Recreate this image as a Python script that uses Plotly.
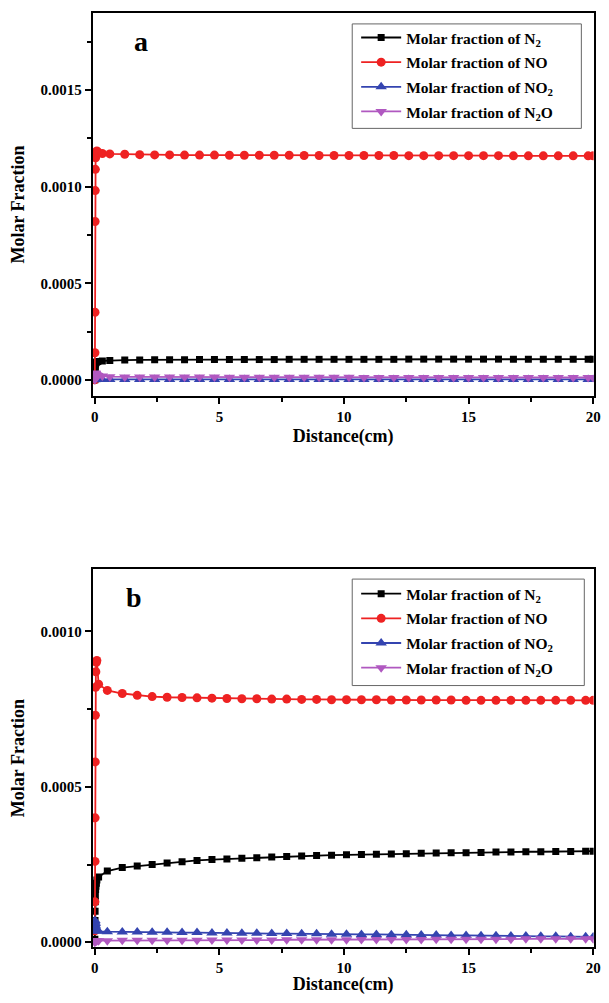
import plotly.graph_objects as go

# ---------------- data: panel a ----------------
xa = [0, 0.003, 0.006, 0.01, 0.015, 0.02, 0.03, 0.05, 0.08, 0.12, 0.3, 0.6, 1.2, 1.8, 2.4, 3.0,
      3.6, 4.2, 4.8, 5.4, 6.0, 6.6, 7.2, 7.8, 8.4, 9.0, 9.6, 10.2, 10.8, 11.4, 12.0, 12.6, 13.2,
      13.8, 14.4, 15.0, 15.6, 16.2, 16.8, 17.4, 18.0, 18.6, 19.2, 19.8, 20.0]
n2_a = [0.0, 0.00002, 0.00004, 0.00006, 0.00007, 0.00008, 0.000085, 0.00009, 0.000093, 0.000095,
        0.000098, 0.0001, 0.000102, 0.000103, 0.000104, 0.000104, 0.000104, 0.000105, 0.000105,
        0.000105, 0.000105, 0.000105, 0.000105, 0.000106, 0.000106, 0.000106, 0.000106, 0.000106,
        0.000106, 0.000106, 0.000106, 0.000107, 0.000107, 0.000107, 0.000107, 0.000107, 0.000107,
        0.000107, 0.000107, 0.000107, 0.000107, 0.000107, 0.000107, 0.000107, 0.000107]
no_a = [0.0, 0.00014, 0.00035, 0.00082, 0.00098, 0.00109, 0.00115, 0.00118, 0.001185, 0.00118,
        0.001172, 0.00117, 0.001168, 0.001166, 0.001165, 0.001165, 0.001164, 0.001164, 0.001164,
        0.001163, 0.001163, 0.001163, 0.001163, 0.001163, 0.001162, 0.001162, 0.001162, 0.001162,
        0.001162, 0.001162, 0.001162, 0.001161, 0.001161, 0.001161, 0.001161, 0.001161, 0.001161,
        0.001161, 0.00116, 0.00116, 0.00116, 0.00116, 0.00116, 0.00116, 0.00116]
no2_a = [0.0, 0.000002, 0.000003, 0.000003, 0.000003, 0.000003, 0.000003, 0.000002, 0.000002,
         0.000002, 0.000002, 0.000002, 0.000002, 0.000002, 0.000002, 0.000002, 0.000002, 0.000002,
         0.000002, 0.000002, 0.000002, 0.000002, 0.000002, 0.000002, 0.000002, 0.000002, 0.000002,
         0.000002, 0.000002, 0.000002, 0.000002, 0.000002, 0.000002, 0.000002, 0.000002, 0.000002,
         0.000002, 0.000002, 0.000002, 0.000002, 0.000002, 0.000002, 0.000002, 0.000002, 0.000002]
n2o_a = [0.0, 0.00002, 0.00003, 0.000035, 0.000033, 0.00003, 0.000028, 0.000026, 0.000024,
         0.000022, 0.00002, 0.000016, 0.000015, 0.000015, 0.000014, 0.000014, 0.000014, 0.000014,
         0.000014, 0.000013, 0.000013, 0.000013, 0.000013, 0.000013, 0.000013, 0.000013, 0.000013,
         0.000013, 0.000012, 0.000012, 0.000012, 0.000012, 0.000012, 0.000012, 0.000012, 0.000012,
         0.000012, 0.000012, 0.000012, 0.000012, 0.000012, 0.000012, 0.000012, 0.000012, 0.000012]

# ---------------- data: panel b ----------------
xb = [0, 0.003, 0.006, 0.01, 0.015, 0.02, 0.03, 0.04, 0.06, 0.08, 0.15, 0.5, 1.1, 1.7, 2.3, 2.9,
      3.5, 4.1, 4.7, 5.3, 5.9, 6.5, 7.1, 7.7, 8.3, 8.9, 9.5, 10.1, 10.7, 11.3, 11.9, 12.5, 13.1,
      13.7, 14.3, 14.9, 15.5, 16.1, 16.7, 17.3, 17.9, 18.5, 19.1, 19.7, 20.0]
n2_b = [0.00001, 0.00004, 0.00007, 0.0001, 0.00013, 0.00015, 0.00017, 0.00018, 0.00019, 0.0002,
        0.00021, 0.000229, 0.00024, 0.000245, 0.00025, 0.000255, 0.000259, 0.000263, 0.000266,
        0.000268, 0.00027, 0.000272, 0.000274, 0.000276, 0.000277, 0.000279, 0.00028, 0.000281,
        0.000282, 0.000283, 0.000284, 0.000285, 0.000286, 0.000287, 0.000288, 0.000288, 0.000289,
        0.00029, 0.00029, 0.000291, 0.000291, 0.000292, 0.000292, 0.000293, 0.000293]
no_b = [0.000037, 0.00013, 0.00026, 0.0004, 0.00058, 0.00073, 0.00082, 0.00087, 0.0009, 0.000906,
        0.00083, 0.00081, 0.0008, 0.000794, 0.00079, 0.000788, 0.000787, 0.000786, 0.000785,
        0.000784, 0.000783, 0.000783, 0.000782, 0.000782, 0.000781, 0.000781, 0.00078, 0.00078,
        0.00078, 0.00078, 0.000779, 0.000779, 0.000779, 0.000779, 0.000779, 0.000778, 0.000778,
        0.000778, 0.000778, 0.000778, 0.000778, 0.000778, 0.000778, 0.000778, 0.000778]
no2_b = [0.00006, 0.00007, 0.000065, 0.00006, 0.000055, 0.00005, 0.000045, 0.00004, 0.000038,
         0.000036, 0.000035, 0.000034, 0.000033, 0.000033, 0.000032, 0.000032, 0.000031, 0.000031,
         0.00003, 0.00003, 0.000029, 0.000029, 0.000028, 0.000028, 0.000027, 0.000027, 0.000026,
         0.000026, 0.000025, 0.000025, 0.000024, 0.000024, 0.000023, 0.000023, 0.000022, 0.000022,
         0.000021, 0.000021, 0.00002, 0.00002, 0.000019, 0.000019, 0.000018, 0.000018, 0.000017]
n2o_b = [0.0, 0.000002, 0.000003, 0.000004, 0.000005, 0.000005, 0.000005, 0.000005, 0.000005,
         0.000005, 0.000005, 0.000005, 0.000006, 0.000006, 0.000006, 0.000006, 0.000006, 0.000006,
         0.000007, 0.000007, 0.000007, 0.000007, 0.000007, 0.000008, 0.000008, 0.000008, 0.000008,
         0.000008, 0.000009, 0.000009, 0.000009, 0.000009, 0.000009, 0.00001, 0.00001, 0.00001,
         0.00001, 0.00001, 0.00001, 0.000011, 0.000011, 0.000011, 0.000011, 0.000011, 0.000011]

names = ["Molar fraction of N<sub>2</sub>", "Molar fraction of NO",
         "Molar fraction of NO<sub>2</sub>", "Molar fraction of N<sub>2</sub>O"]
colors = ["#000000", "#ee2222", "#3444b0", "#b058c0"]
symbols = ["square", "circle", "triangle-up", "triangle-down"]
msizes = [7, 9, 10, 10]

FONT = "Liberation Serif"
W, H = 601, 987   # page body has an 8px margin; figure fills the rest


def px(x):
    return x / W


def py(y):
    return 1 - y / H


fig = go.Figure()
for k, ys in enumerate([n2_a, no_a, no2_a, n2o_a]):
    fig.add_trace(go.Scatter(x=xa, y=ys, name=names[k], mode="lines+markers",
                             line=dict(color=colors[k], width=1.8),
                             marker=dict(symbol=symbols[k], size=msizes[k], color=colors[k]),
                             xaxis="x", yaxis="y", legend="legend", legendgroup="a%d" % k))
for k, ys in enumerate([n2_b, no_b, no2_b, n2o_b]):
    fig.add_trace(go.Scatter(x=xb, y=ys, name=names[k], mode="lines+markers",
                             line=dict(color=colors[k], width=1.8),
                             marker=dict(symbol=symbols[k], size=msizes[k], color=colors[k]),
                             xaxis="x2", yaxis="y2", legend="legend2", legendgroup="b%d" % k))

tickfont = dict(family=FONT, size=15, color="black", weight="bold")
titlefont = dict(family=FONT, size=18, color="black", weight="bold")
XDOM = [px(83), px(592.5)]


def xax(anchor):
    return dict(domain=XDOM, range=[-0.09, 20.02], anchor=anchor,
                showline=True, mirror=True, linecolor="black", linewidth=1.6,
                ticks="outside", ticklen=6, tickwidth=1.5, tickcolor="black",
                dtick=5, tick0=0, tickfont=tickfont, showgrid=False, zeroline=False,
                ticklabeloverflow="allow",
                minor=dict(dtick=2.5, ticks="outside", ticklen=4, tickwidth=1.5, tickcolor="black"),
                title=dict(text="Distance(cm)", font=titlefont, standoff=6))


def yax(dom, rng, anchor):
    return dict(domain=dom, range=rng, anchor=anchor,
                showline=True, mirror=True, linecolor="black", linewidth=1.6,
                ticks="outside", ticklen=6, tickwidth=1.5, tickcolor="black",
                dtick=0.0005, tick0=0, tickformat=".4f", tickfont=tickfont,
                showgrid=False, zeroline=False, ticklabeloverflow="allow",
                minor=dict(dtick=0.00025, ticks="outside", ticklen=4, tickwidth=1.5, tickcolor="black"),
                title=dict(text="Molar Fraction", font=titlefont, standoff=20))


legfont = dict(family=FONT, size=15.5, color="black", weight="bold")
fig.update_layout(
    width=W, height=H, margin=dict(l=0, r=0, t=0, b=0),
    paper_bgcolor="white", plot_bgcolor="white", showlegend=True,
    xaxis=xax("y"), yaxis=yax([py(390), py(5)], [-0.000084, 0.0019], "x"),
    xaxis2=xax("y2"), yaxis2=yax([py(944), py(564)], [-0.000016, 0.0012], "x2"),
    legend=dict(x=px(351), y=py(13), xanchor="left", yanchor="top", font=legfont,
                borderwidth=0, bgcolor="rgba(0,0,0,0)", tracegroupgap=1.5, itemwidth=40),
    legend2=dict(x=px(351), y=py(572), xanchor="left", yanchor="top", font=legfont,
                 borderwidth=0, bgcolor="rgba(0,0,0,0)", tracegroupgap=1.5, itemwidth=40),
    shapes=[
        dict(type="rect", xref="paper", yref="paper", x0=px(347), x1=px(580), y0=py(121), y1=py(16),
             line=dict(color="#666666", width=1), fillcolor="white", layer="above"),
        dict(type="rect", xref="paper", yref="paper", x0=px(347), x1=px(583), y0=py(681), y1=py(574),
             line=dict(color="#666666", width=1), fillcolor="white", layer="above"),
    ],
    annotations=[
        dict(text="a", x=px(132), y=py(34), xref="paper", yref="paper", showarrow=False,
             xanchor="center", yanchor="middle",
             font=dict(family=FONT, size=28, color="black", weight="bold")),
        dict(text="b", x=px(125), y=py(593), xref="paper", yref="paper", showarrow=False,
             xanchor="center", yanchor="middle",
             font=dict(family=FONT, size=28, color="black", weight="bold")),
    ],
)

fig.write_html("out.html")
